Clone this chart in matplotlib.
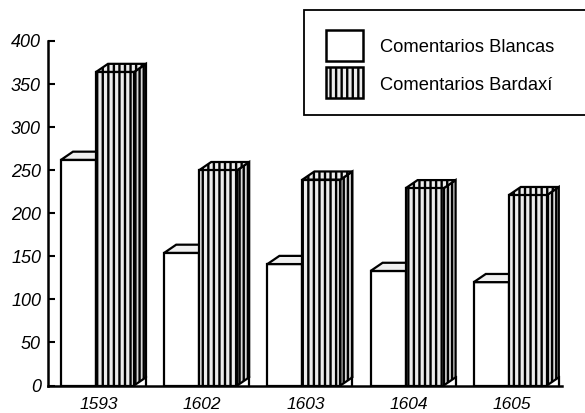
import matplotlib
matplotlib.use("Agg")
import matplotlib.pyplot as plt
from matplotlib.patches import Polygon, Rectangle

years = ["1593", "1602", "1603", "1604", "1605"]
blancas = [262, 154, 141, 133, 120]
bardaxi = [364, 250, 239, 229, 221]
yticks = [0, 50, 100, 150, 200, 250, 300, 350, 400]

W, H = 585, 413
plt.rcParams["font.family"] = ["Liberation Sans", "DejaVu Sans"]
plt.rcParams["hatch.linewidth"] = 1.7

fig = plt.figure(figsize=(W / 100, H / 100), dpi=100)
# axes placed in pixels, x data unit = one pixel
ax = fig.add_axes([48 / W, 1 - 385.5 / H, 514 / W, 344.5 / H])
ax.set_xlim(48, 562)
ax.set_ylim(0, 400)

dx = 12
dy = 9.5  # depth in y units
lw = 1.6
stripe = "#ececec"

for i in range(len(years)):
    c = 96 + 103.2 * i
    # white bar and its top
    ax.bar(c, blancas[i], width=-35, align="edge", facecolor="white", edgecolor="black", linewidth=lw, zorder=2)
    top = blancas[i]
    ax.add_patch(Polygon([(c - 35, top), (c - 35 + dx, top + dy), (c + dx, top + dy), (c, top)],
                         facecolor="#f0f0f0", edgecolor="black", linewidth=lw, zorder=2))
    # striped bar, front, top and side
    top = bardaxi[i]
    ax.add_patch(Polygon([(c + 38, 0), (c + 38 + dx, dy), (c + 38 + dx, top + dy), (c + 38, top)],
                         facecolor="#d8d8d8", edgecolor="black", hatch="||||", linewidth=lw, zorder=3))
    ax.add_patch(Polygon([(c, top), (c + dx, top + dy), (c + 38 + dx, top + dy), (c + 38, top)],
                         facecolor=stripe, edgecolor="black", hatch="|||", linewidth=lw, zorder=3))
    ax.bar(c, top, width=38, align="edge", facecolor=stripe, edgecolor="black", hatch="|||", linewidth=lw, zorder=4)
    ax.plot([c + 38 + dx, c + 38 + dx], [0, dy], color="black", linewidth=lw, zorder=3)

for s in ["top", "right"]:
    ax.spines[s].set_visible(False)
for s in ["left", "bottom"]:
    ax.spines[s].set_linewidth(1.8)
    ax.spines[s].set_zorder(6)

ax.set_yticks(yticks)
ax.set_yticklabels([str(v) for v in yticks], fontsize=13, style="italic")
ax.tick_params(axis="y", direction="in", length=5, width=1.5, pad=5)
ax.set_xticks([99 + 103.2 * i for i in range(len(years))])
ax.set_xticklabels(years, fontsize=12.5, style="italic")
ax.tick_params(axis="x", length=0, pad=8)

# legend box runs off the right edge, so it is drawn by hand in pixels
def px(x, y):
    return x / W, 1 - y / H

box = Rectangle(px(304, 115), 290 / W, 105 / H, transform=fig.transFigure, facecolor="white",
                edgecolor="black", linewidth=1.3, zorder=10)
fig.add_artist(box)
fig.add_artist(Rectangle(px(326, 61), 37 / W, 31 / H, transform=fig.transFigure, facecolor="white",
                         edgecolor="black", linewidth=1.8, zorder=11))
fig.add_artist(Rectangle(px(326, 98), 37 / W, 31 / H, transform=fig.transFigure, facecolor=stripe,
                         edgecolor="black", hatch="|||", linewidth=1.8, zorder=11))
fig.text(*px(380, 48), "Comentarios Blancas", fontsize=13.2, va="center", ha="left", zorder=12)
fig.text(*px(380, 86), "Comentarios Bardaxí", fontsize=13.2, va="center", ha="left", zorder=12)

fig.savefig("out.png", dpi=100)
